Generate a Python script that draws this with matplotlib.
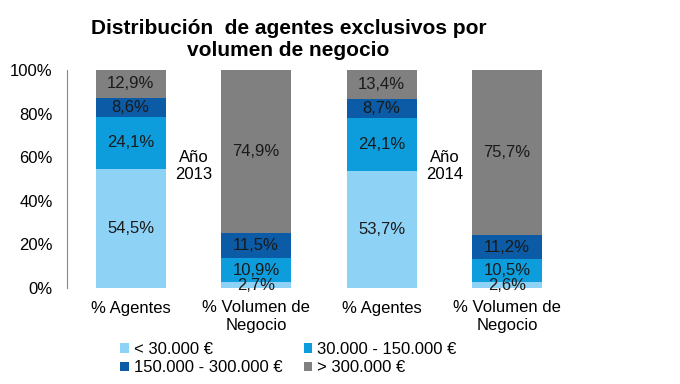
import matplotlib.pyplot as plt
import numpy as np

plt.rcParams['font.family'] = ['Liberation Sans', 'DejaVu Sans']

# categories and values (percent)
categories = ['% Agentes', '% Volumen de\nNegocio', '% Agentes', '% Volumen de\nNegocio']
series_names = ['< 30.000 €', '30.000 - 150.000 €', '150.000 - 300.000 €', '> 300.000 €']
menos_30 = [54.5, 2.7, 53.7, 2.6]
de_30_150 = [24.1, 10.9, 24.1, 10.5]
de_150_300 = [8.6, 11.5, 8.7, 11.2]
mas_300 = [12.9, 74.9, 13.4, 75.7]
year_labels = ['Año\n2013', 'Año\n2014']

colors = ['#8ed2f6', '#0e9ddc', '#0b5ba6', '#808080']

fig = plt.figure(figsize=(6.8, 3.84), dpi=100)
ax = fig.add_axes([0.098, 0.25, 0.74, 0.568])

x = np.arange(len(categories))
series = [menos_30, de_30_150, de_150_300, mas_300]
bottom = np.zeros(len(categories))
# stacked bars, shares normalised so each column reaches 100%
totals = np.sum(series, axis=0)
handles = []
for vals, name, c in zip(series, series_names, colors):
    h = np.array(vals) / totals * 100
    handles.append(ax.bar(x, h, 0.557, bottom=bottom, color=c, label=name))
    for xi, b, hi, v in zip(x, bottom, h, vals):
        ax.text(xi, b + hi / 2, ('%.1f%%' % v).replace('.', ','),
                ha='center', va='center', fontsize=12, color='#1a1a1a')
    bottom += h

for pos, lbl in zip([0.5, 2.5], year_labels):
    ax.text(pos, 56, lbl, ha='center', va='center', fontsize=12)

ax.set_xlim(-0.51, 3.5)
ax.set_ylim(0, 100)
ax.set_xticks(x)
ax.set_xticklabels(categories, fontsize=12)
ax.set_yticks(np.arange(0, 101, 20))
ax.set_yticklabels(['%d%%' % v for v in range(0, 101, 20)], fontsize=12)
ax.tick_params(length=0)
ax.tick_params(axis='x', pad=9)
ax.tick_params(axis='y', pad=10)
for s in ['top', 'right', 'bottom']:
    ax.spines[s].set_visible(False)
ax.spines['left'].set_color('#888888')

fig.text(0.424, 0.897, 'Distribución  de agentes exclusivos por\nvolumen de negocio',
         ha='center', va='center', fontsize=15, fontweight='bold', linespacing=1.25)

# legend fills column by column, reorder so rows read like the original
order = [0, 2, 1, 3]
fig.legend([handles[i] for i in order], [series_names[i] for i in order],
           loc='center left', bbox_to_anchor=(0.155, 0.066), ncol=2, frameon=False,
           fontsize=12, handlelength=0.5, handleheight=0.5, handletextpad=0.3,
           columnspacing=1.28, labelspacing=0.2)

fig.savefig('out.png', dpi=100)
